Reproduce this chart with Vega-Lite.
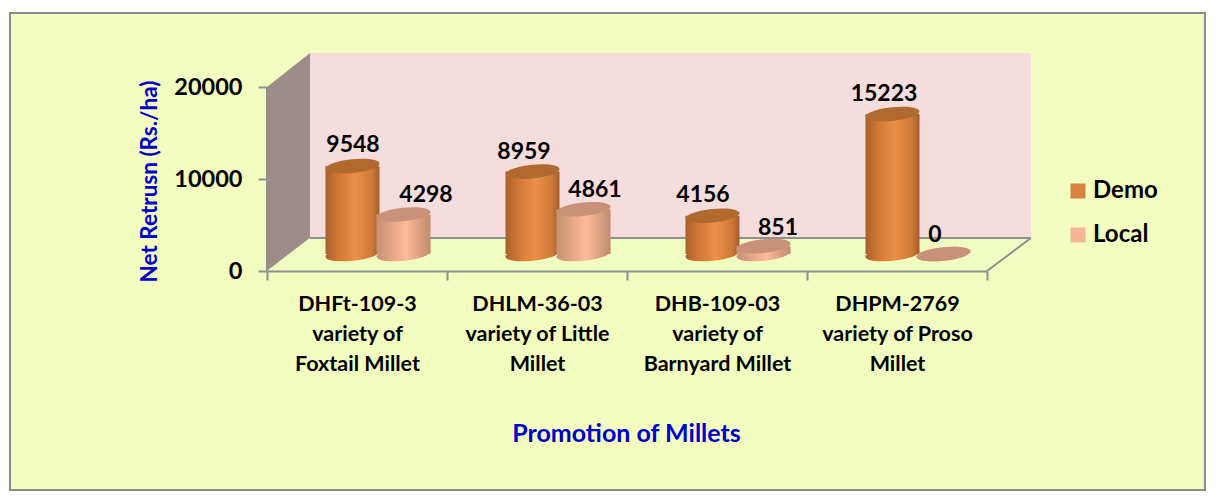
{
"$schema":"https://vega.github.io/schema/vega-lite/v6.json",
"width":720,"height":184,
"autosize":{"type":"none"},
"padding":{"left":267,"top":87,"right":231,"bottom":231},
"background":"#ffffff",
"view":{"stroke":null},
"config":{"font":"Lato","axis":{"grid":false}},
"datasets":{
"bars":[
{"cat":"DHFt-109-3|variety of|Foxtail Millet","series":"Demo","value":9548},
{"cat":"DHFt-109-3|variety of|Foxtail Millet","series":"Local","value":4298},
{"cat":"DHLM-36-03|variety of Little|Millet","series":"Demo","value":8959},
{"cat":"DHLM-36-03|variety of Little|Millet","series":"Local","value":4861},
{"cat":"DHB-109-03|variety of|Barnyard Millet","series":"Demo","value":4156},
{"cat":"DHB-109-03|variety of|Barnyard Millet","series":"Local","value":851},
{"cat":"DHPM-2769|variety of Proso|Millet","series":"Demo","value":15223},
{"cat":"DHPM-2769|variety of Proso|Millet","series":"Local","value":0}
]
},
"layer":[
{"layer":[
{"data":{"values":[{"a":-1.428,"b":5.211,"t":28043,"u":-23804}]},
 "mark":{"type":"rect","fill":"#F3FDBF","stroke":"#8C8C8C","strokeWidth":2},
 "encoding":{"x":{"field":"a","type":"quantitative","axis":null,"scale":{"domain":[0,4],"nice":false,"zero":false}},"x2":{"field":"b"},
 "y":{"field":"t","type":"quantitative","scale":{"domain":[0,20000],"nice":false},"axis":{"zindex":1,"values":[0,10000,20000],"format":"d","domain":false,"grid":false,"tickSize":9,"tickWidth":2,"tickColor":"#8C9090","labelFont":"Lato","labelFontWeight":"bold","labelFontSize":23.5,"labelColor":"#000000","labelPadding":16,"title":"Net Retrusn (Rs./ha)","titleFont":"Lato","titleFontWeight":"bold","titleFontSize":22.5,"titleColor":"#0000CC","titleX":-106,"titleY":94,"titleAngle":-90}},"y2":{"field":"u"}}},
{"data":{"values":[{"a":0.239,"b":4.244,"t":23696,"u":3587}]},
 "mark":{"type":"rect","fill":"#F5DDDD"},
 "encoding":{"x":{"field":"a","type":"quantitative","axis":null},"x2":{"field":"b"},"y":{"field":"t","type":"quantitative"},"y2":{"field":"u"}}},
{"data":{"values":[{"a":0,"lo":0,"hi":20000},{"a":0.239,"lo":3587,"hi":23696}]},
 "mark":{"type":"area","fill":"#9C8C8A","opacity":1},
 "encoding":{"x":{"field":"a","type":"quantitative","axis":null},"y":{"field":"lo","type":"quantitative"},"y2":{"field":"hi"}}},
{"data":{"values":[{"a":0,"lo":0,"hi":0},{"a":0.239,"lo":0,"hi":3587},{"a":4,"lo":0,"hi":3587},{"a":4.244,"lo":3587,"hi":3587}]},
 "mark":{"type":"area","fill":"#F1FCC0","opacity":1},
 "encoding":{"x":{"field":"a","type":"quantitative","axis":null},"y":{"field":"lo","type":"quantitative"},"y2":{"field":"hi"}}},
{"data":{"values":[{"a":0.239,"b":4.244,"p":3587,"q":3587},{"a":4,"b":4.244,"p":0,"q":3587},{"a":0,"b":0,"p":0,"q":20000}]},
 "mark":{"type":"rule","stroke":"#8C9090","strokeWidth":2},
 "encoding":{"x":{"field":"a","type":"quantitative","axis":null},"x2":{"field":"b"},"y":{"field":"p","type":"quantitative"},"y2":{"field":"q"}}}
]},
{"data":{"name":"bars"},
 "encoding":{
 "x":{"field":"cat","type":"nominal","sort":null,"scale":{"paddingInner":0,"paddingOuter":0},"axis":{"zindex":1,"title":"Promotion of Millets","titleFont":"Lato","titleFontWeight":"bold","titleFontSize":25,"titleColor":"#0000CC","titleX":359,"titleY":150,"labelAngle":0,"labelExpr":"split(datum.label,'|')","labelFont":"Lato","labelFontWeight":"bold","labelFontSize":21.5,"labelColor":"#000000","labelLineHeight":30,"labelPadding":13,"labelLimit":300,"tickBand":"extent","tickSize":9,"tickWidth":2,"tickColor":"#8C9090","domainColor":"#8C9090","domainWidth":2}},
 "y":{"field":"value","type":"quantitative"}},
 "layer":[
 {"mark":{"type":"square","size":0},"encoding":{"color":{"field":"series","type":"nominal","scale":{"domain":["Demo","Local"],"range":["#D9823F","#F6B596"]},"legend":{"title":null,"orient":"none","legendX":799,"legendY":92,"symbolType":"square","symbolSize":225,"symbolOpacity":1,"labelFont":"Lato","labelFontWeight":"bold","labelFontSize":24,"labelColor":"#000000","rowPadding":20,"labelOffset":3}}}},

 {"transform":[{"filter":"datum.series=='Demo'"}],"mark":{"type":"point","shape":"M-1,0.1A1,0.25,-6,1,1,1,-0.1A1,0.25,-6,1,1,-1,0.1Z","size":2916,"filled":true,"opacity":1,"yOffset":-17,"fill":{"gradient":"linear","x1":0,"x2":1,"y1":0,"y2":0,"stops":[{"offset":0,"color":"#A65F2B"},{"offset":0.2,"color":"#CC7533"},{"offset":0.55,"color":"#EC9048"},{"offset":0.85,"color":"#CF7A38"},{"offset":1,"color":"#A25C2A"}]}},"encoding":{"y":{"datum":0},"xOffset":{"field":"series","type":"nominal","scale":{"domain":["Demo","Local"],"paddingInner":0,"paddingOuter":0.765,"range":[21,201]}}}},
 {"transform":[{"filter":"datum.series=='Demo'"}],"mark":{"type":"bar","size":54,"yOffset":-17,"y2Offset":-17,"fill":{"gradient":"linear","x1":0,"x2":1,"y1":0,"y2":0,"stops":[{"offset":0,"color":"#A65F2B"},{"offset":0.2,"color":"#CC7533"},{"offset":0.55,"color":"#EC9048"},{"offset":0.85,"color":"#CF7A38"},{"offset":1,"color":"#A25C2A"}]}},"encoding":{"xOffset":{"field":"series","type":"nominal"}}},
 {"transform":[{"filter":"datum.series=='Demo'"}],"mark":{"type":"point","shape":"M-1,0.1A1,0.25,-6,1,1,1,-0.1A1,0.25,-6,1,1,-1,0.1Z","size":2916,"filled":true,"opacity":1,"yOffset":-17,"fill":"#B06A30"},"encoding":{"xOffset":{"field":"series","type":"nominal"}}},

 {"transform":[{"filter":"datum.series=='Local'"}],"mark":{"type":"point","shape":"M-1,0.1A1,0.25,-6,1,1,1,-0.1A1,0.25,-6,1,1,-1,0.1Z","size":2916,"filled":true,"opacity":1,"yOffset":-17,"fill":{"gradient":"linear","x1":0,"x2":1,"y1":0,"y2":0,"stops":[{"offset":0,"color":"#C69074"},{"offset":0.55,"color":"#FFBB96"},{"offset":1,"color":"#C08A70"}]}},"encoding":{"y":{"datum":0},"xOffset":{"field":"series","type":"nominal"}}},
 {"transform":[{"filter":"datum.series=='Local'"}],"mark":{"type":"bar","size":54,"yOffset":-17,"y2Offset":-17,"fill":{"gradient":"linear","x1":0,"x2":1,"y1":0,"y2":0,"stops":[{"offset":0,"color":"#C69074"},{"offset":0.55,"color":"#FFBB96"},{"offset":1,"color":"#C08A70"}]}},"encoding":{"xOffset":{"field":"series","type":"nominal"}}},
 {"transform":[{"filter":"datum.series=='Local'"}],"mark":{"type":"point","shape":"M-1,0.1A1,0.25,-6,1,1,1,-0.1A1,0.25,-6,1,1,-1,0.1Z","size":2916,"filled":true,"opacity":1,"yOffset":-17,"fill":"#C9917A"},"encoding":{"xOffset":{"field":"series","type":"nominal"}}},

 {"transform":[{"filter":"datum.value==9548"}],"mark":{"type":"text","font":"Lato","fontWeight":"bold","fontSize":23,"fill":"#000000","baseline":"middle","xOffset":-4,"yOffset":-38},"encoding":{"text":{"field":"value","type":"nominal"}}},
 {"transform":[{"filter":"datum.value==4298"}],"mark":{"type":"text","font":"Lato","fontWeight":"bold","fontSize":23,"fill":"#000000","baseline":"middle","xOffset":69,"yOffset":-36},"encoding":{"text":{"field":"value","type":"nominal"}}},
 {"transform":[{"filter":"datum.value==8959"}],"mark":{"type":"text","font":"Lato","fontWeight":"bold","fontSize":23,"fill":"#000000","baseline":"middle","xOffset":-13,"yOffset":-37},"encoding":{"text":{"field":"value","type":"nominal"}}},
 {"transform":[{"filter":"datum.value==4861"}],"mark":{"type":"text","font":"Lato","fontWeight":"bold","fontSize":23,"fill":"#000000","baseline":"middle","xOffset":58,"yOffset":-36},"encoding":{"text":{"field":"value","type":"nominal"}}},
 {"transform":[{"filter":"datum.value==4156"}],"mark":{"type":"text","font":"Lato","fontWeight":"bold","fontSize":23,"fill":"#000000","baseline":"middle","xOffset":-14,"yOffset":-38},"encoding":{"text":{"field":"value","type":"nominal"}}},
 {"transform":[{"filter":"datum.value==851"}],"mark":{"type":"text","font":"Lato","fontWeight":"bold","fontSize":23,"fill":"#000000","baseline":"middle","xOffset":61,"yOffset":-35},"encoding":{"text":{"field":"value","type":"nominal"}}},
 {"transform":[{"filter":"datum.value==15223"}],"mark":{"type":"text","font":"Lato","fontWeight":"bold","fontSize":23,"fill":"#000000","baseline":"middle","xOffset":-13,"yOffset":-37},"encoding":{"text":{"field":"value","type":"nominal"}}},
 {"transform":[{"filter":"datum.value==0"}],"mark":{"type":"text","font":"Lato","fontWeight":"bold","fontSize":23,"fill":"#000000","baseline":"middle","xOffset":38,"yOffset":-36},"encoding":{"text":{"field":"value","type":"nominal"}}}
 ]}
],
"resolve":{"scale":{"x":"independent"}}
}
